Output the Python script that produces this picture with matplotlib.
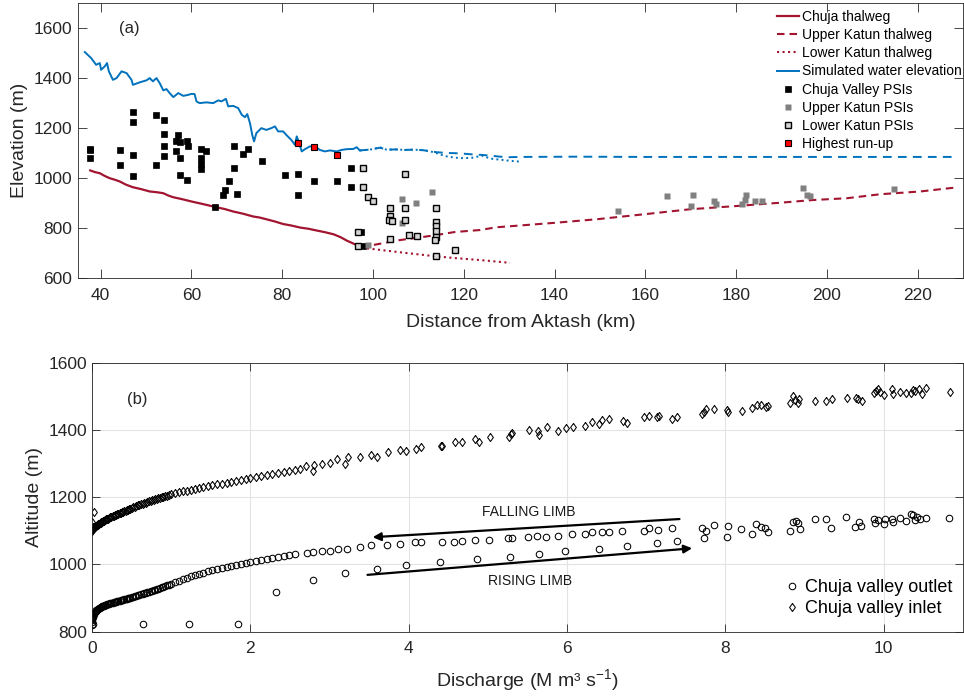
import matplotlib
matplotlib.use("Agg")
import matplotlib.pyplot as plt

plt.rcParams["font.family"] = ["Liberation Sans", "DejaVu Sans"]
plt.rcParams["mathtext.fontset"] = "custom"
plt.rcParams["mathtext.rm"] = "Liberation Sans"
plt.rcParams["mathtext.it"] = "Liberation Sans:italic"

# ---------------- (a) longitudinal profile ----------------
# simulated water surface along the Chuja valley
water_x = [36.5, 37.9, 39.0, 39.8, 40.1, 40.9, 41.4, 41.8, 42.7, 43.5, 44.6, 45.7,
           46.8, 47.1, 48.6, 50.1, 50.8, 51.5, 52.3, 53.0, 53.8, 54.5, 55.2, 56.0,
           57.1, 58.2, 59.3, 60.0, 60.7, 61.1, 61.8, 63.3, 64.8, 65.9, 66.6, 67.6,
           68.1, 69.2, 70.3, 71.1, 71.8, 72.3, 72.9, 73.4, 73.8, 74.3, 75.4, 76.5,
           77.6, 78.4, 79.1, 80.2, 80.9, 82.0, 82.8, 83.2, 83.5, 84.3, 85.0, 86.1,
           87.2, 88.3, 89.4, 90.5, 92.0, 93.1, 94.2, 95.7, 96.4, 97.1]
water_y = [1504, 1480, 1453, 1460, 1433, 1447, 1460, 1427, 1393, 1400, 1427, 1420,
           1393, 1373, 1383, 1391, 1400, 1387, 1400, 1380, 1351, 1356, 1340, 1324,
           1340, 1329, 1333, 1337, 1336, 1307, 1300, 1303, 1300, 1311, 1307, 1317,
           1287, 1289, 1280, 1253, 1244, 1256, 1220, 1173, 1147, 1180, 1200, 1193,
           1200, 1207, 1187, 1187, 1173, 1153, 1133, 1167, 1153, 1107, 1116, 1127,
           1127, 1113, 1107, 1111, 1107, 1113, 1116, 1117, 1124, 1111]

# water surface continued up the Katun (dashed) and down the Katun (dotted)
water_up_x = [97.1, 98.5, 100.0, 101.5, 103.0, 105.0, 107.0, 109.0, 111.0, 112.5,
              114.0, 116.0, 118.0, 120.0, 122.0, 124.0, 126.0, 128.0, 130.0, 133.0,
              145.0, 160.0, 180.0, 200.0, 228.0]
water_up_y = [1111, 1113, 1116, 1122, 1114, 1115, 1113, 1114, 1112, 1108,
              1104, 1101, 1100, 1098, 1095, 1093, 1090, 1086, 1084, 1085,
              1086, 1085, 1085, 1085, 1085]
water_dn_x = [97.1, 98.5, 100.0, 101.5, 103.0, 105.0, 107.0, 109.0, 111.0, 112.5,
              114.0, 116.0, 118.0, 120.0, 122.0, 124.0, 126.0, 128.0, 130.0, 132.5]
water_dn_y = [1111, 1113, 1116, 1124, 1114, 1115, 1113, 1114, 1112, 1108,
              1100, 1088, 1082, 1080, 1082, 1090, 1078, 1074, 1070, 1066]

# thalweg profiles
chuja_x = [37.7, 38.8, 39.8, 41.0, 42.0, 43.1, 44.2, 45.6, 47.1, 49.0, 50.8, 52.4,
           53.8, 55.0, 56.0, 58.0, 60.0, 62.7, 65.5, 67.3, 69.2, 71.4, 73.6, 75.0,
           76.5, 78.4, 80.2, 82.0, 83.9, 85.8, 87.6, 89.5, 91.3, 92.8, 94.2, 95.3,
           96.4, 97.5]
chuja_y = [1031, 1024, 1020, 1008, 1000, 994, 987, 974, 964, 956, 947, 944,
           940, 930, 924, 916, 907, 896, 884, 877, 867, 858, 847, 843,
           836, 827, 817, 811, 803, 798, 791, 784, 776, 765, 751, 742,
           733, 724]
upper_x = [97.5, 100.0, 106.0, 113.3, 118.0, 123.6, 127.2, 130.9, 140.2, 149.3,
           160.3, 169.9, 180.2, 189.7, 197.1, 204.4, 211.8, 220.6, 228.0]
upper_y = [724, 733, 753, 771, 785, 793, 804, 809, 822, 836,
           857, 876, 889, 902, 913, 920, 936, 947, 962]
lower_x = [97.5, 98.6, 106.0, 113.3, 118.0, 123.6, 130.2]
lower_y = [724, 720, 704, 689, 681, 673, 662]

# palaeostage indicators
chuja_psi_x = [37.7, 37.7, 37.6, 44.3, 44.3, 47.1, 47.1, 47.1, 47.1, 52.1, 52.1, 54.0,
               54.0, 54.0, 54.0, 56.5, 56.5, 57.1, 57.4, 57.5, 57.5, 59.0, 59.3, 59.1,
               62.1, 62.1, 62.2, 62.1, 63.1, 65.3, 66.9, 67.4, 68.3, 69.4, 69.4, 70.0,
               71.3, 72.5, 75.5, 80.6, 83.5, 83.5, 86.9, 92.1, 95.1, 95.1, 97.3, 97.9]
chuja_psi_y = [1117, 1081, 1111, 1112, 1052, 1263, 1224, 1091, 1009, 1253, 1051, 1233,
               1175, 1129, 1087, 1149, 1109, 1173, 1143, 1079, 1012, 1147, 1127, 993,
               1116, 1079, 1056, 1036, 1109, 885, 933, 953, 989, 1129, 1040, 936,
               1097, 1116, 1069, 1013, 1016, 933, 989, 989, 1040, 965, 787, 729]
upper_psi_x = [98.8, 106.5, 109.5, 113.1, 106.5, 154.1, 164.8, 170.6, 170.1, 175.2,
               175.6, 181.4, 181.9, 182.3, 184.2, 185.7, 194.7, 195.6, 196.2, 214.7]
upper_psi_y = [733, 916, 899, 943, 823, 869, 929, 934, 889, 908,
               896, 897, 913, 934, 909, 909, 960, 933, 927, 956]
lower_psi_x = [97.7, 97.7, 98.9, 100.1, 107.1, 103.7, 103.7, 103.6, 104.3, 107.1,
               107.1, 103.7, 107.9, 109.7, 113.8, 113.8, 113.8, 113.8, 113.8, 113.7,
               113.8, 118.1, 96.6, 96.6]
lower_psi_y = [1040, 965, 925, 910, 1017, 880, 850, 833, 830, 880,
               833, 756, 774, 769, 880, 826, 809, 790, 766, 753,
               690, 713, 786, 729]
runup_x = [83.5, 86.9, 92.1]
runup_y = [1140, 1124, 1091]

# ---------------- (b) stage-discharge ----------------
outlet_q = [0.00, 0.00, 0.00, 0.01, 0.01, 0.02, 0.03, 0.04, 0.05, 0.06, 0.08, 0.10,
            0.12, 0.14, 0.16, 0.18, 0.20, 0.23, 0.26, 0.29, 0.32, 0.35, 0.38, 0.41,
            0.44, 0.47, 0.50, 0.54, 0.58, 0.62, 0.66, 0.70, 0.74, 0.78, 0.82, 0.86,
            0.90, 0.95, 1.00, 1.05, 1.10, 1.15, 1.20, 1.25, 1.30, 1.35, 1.40, 1.46,
            1.52, 1.58, 1.64, 1.70, 1.76, 1.82, 1.88, 1.94, 2.00, 2.07, 2.14, 2.21,
            2.28, 2.35, 2.42, 2.49, 2.56,
            0.005, 0.015, 0.025, 0.035, 0.045, 0.055, 0.07, 0.09, 0.11, 0.13, 0.15,
            0.17, 0.19, 0.215, 0.245, 0.275, 0.305, 0.335, 0.365, 0.395, 0.425,
            0.455, 0.485, 0.52, 0.56, 0.60, 0.64, 0.68, 0.72, 0.76, 0.80, 0.84,
            0.88, 0.925, 0.975,
            2.71, 2.79, 2.90, 3.00, 3.11, 3.22, 3.38, 3.53, 3.73, 3.89, 4.08, 4.16,
            4.42, 4.57, 4.67, 4.84, 5.02, 5.26, 5.31, 5.51, 5.62, 5.74, 5.89, 6.06,
            6.23, 6.31, 6.44, 6.53, 6.70, 6.97, 7.03, 7.15, 7.32, 7.71, 7.76, 7.86,
            8.03, 8.20, 8.39, 8.45, 8.50, 8.54, 8.82, 8.85, 8.89, 8.92, 8.94, 9.13,
            9.27, 9.33, 9.52, 9.64, 9.69, 9.71, 9.88, 9.89, 9.93, 10.00, 10.02, 10.10,
            10.12, 10.20, 10.28, 10.34, 10.37, 10.39, 10.42, 10.46, 10.53, 10.83,
            0.01, 0.64, 1.22, 1.84, 2.33, 2.79, 3.20, 3.60, 3.96, 4.40, 4.86, 5.28,
            5.65, 5.98, 6.40, 6.76, 7.13, 7.39, 7.73, 8.02, 8.34]
outlet_h = [820, 828, 836, 843, 848, 853, 857, 860, 863, 865, 868, 871,
            874, 876, 878, 880, 882, 884, 886, 888, 890, 892, 894, 896,
            898, 900, 902, 905, 908, 911, 914, 917, 920, 923, 927, 930,
            934, 938, 943, 947, 952, 956, 961, 965, 969, 973, 976, 980,
            983, 986, 989, 992, 995, 998, 1000, 1003, 1006, 1009, 1012, 1015,
            1018, 1021, 1024, 1027, 1030,
            840, 851, 855, 858, 861, 864, 866, 869, 872, 875, 877,
            879, 881, 883, 885, 887, 889, 891, 893, 895, 897,
            899, 901, 903, 906, 909, 912, 915, 918, 921, 925, 928,
            932, 936, 940,
            1033, 1036, 1041, 1041, 1047, 1045, 1053, 1057, 1057, 1061, 1066, 1068,
            1066, 1067, 1069, 1073, 1073, 1078, 1078, 1083, 1086, 1083, 1085, 1090,
            1090, 1095, 1095, 1097, 1100, 1099, 1109, 1102, 1107, 1107, 1100, 1117,
            1114, 1106, 1120, 1110, 1109, 1097, 1100, 1127, 1129, 1122, 1106, 1134,
            1134, 1109, 1140, 1112, 1127, 1114, 1134, 1124, 1132, 1120, 1134, 1134,
            1127, 1137, 1130, 1150, 1147, 1132, 1142, 1135, 1139, 1137,
            822, 822, 822, 822, 918, 954, 974, 985, 997, 1006, 1016, 1023,
            1031, 1040, 1046, 1054, 1064, 1071, 1078, 1083, 1090]

inlet_q = [0.00, 0.00, 0.01, 0.01, 0.02, 0.03, 0.04, 0.05, 0.06, 0.08, 0.10, 0.12,
           0.14, 0.16, 0.18, 0.20, 0.23, 0.26, 0.29, 0.32, 0.35, 0.38, 0.41, 0.44,
           0.47, 0.50, 0.54, 0.58, 0.62, 0.66, 0.70, 0.74, 0.78, 0.82, 0.86, 0.90,
           0.95, 1.00, 1.05, 1.10, 1.15, 1.20, 1.25, 1.30, 1.35, 1.40, 1.46, 1.52,
           1.58, 1.64, 1.70, 1.76, 1.82, 1.88, 1.94, 2.00, 2.07, 2.14, 2.21, 2.28,
           2.35, 2.42, 2.49, 2.56, 2.63, 0.02, 0.00,
           0.005, 0.015, 0.025, 0.035, 0.045, 0.055, 0.07, 0.09, 0.11, 0.13, 0.15,
           0.17, 0.19, 0.215, 0.245, 0.275, 0.305, 0.335, 0.365, 0.395, 0.425,
           0.455, 0.485, 0.52, 0.56, 0.60, 0.64, 0.68, 0.72, 0.76, 0.80, 0.84,
           0.88, 0.925, 0.975,
           2.70, 2.79, 2.80, 2.91, 3.00, 3.10, 3.20, 3.23, 3.38, 3.53, 3.60, 3.74,
           3.89, 3.97, 4.09, 4.16, 4.41, 4.42, 4.58, 4.67, 4.84, 4.89, 5.03, 5.27,
           5.29, 5.31, 5.52, 5.63, 5.65, 5.75, 5.89, 5.99, 6.07, 6.23, 6.31, 6.40,
           6.44, 6.53, 6.71, 6.76, 6.97, 7.04, 7.14, 7.16, 7.33, 7.39, 7.71, 7.73,
           7.76, 7.86, 8.02, 8.03, 8.21, 8.34, 8.40, 8.45, 8.51, 8.54, 8.82, 8.85,
           8.88, 8.92, 8.93, 9.13, 9.27, 9.34, 9.53, 9.65, 9.68, 9.72, 9.88, 9.90,
           9.93, 9.95, 10.00, 10.10, 10.12, 10.20, 10.28, 10.34, 10.37, 10.39, 10.45,
           10.48, 10.53, 10.84]
inlet_h = [1100, 1106, 1104, 1110, 1107, 1110, 1112, 1114, 1116, 1119, 1122, 1126,
           1129, 1131, 1134, 1136, 1140, 1143, 1146, 1149, 1152, 1156, 1159, 1162,
           1165, 1168, 1172, 1176, 1180, 1183, 1186, 1189, 1192, 1195, 1198, 1201,
           1204, 1208, 1211, 1214, 1217, 1219, 1222, 1224, 1227, 1229, 1232, 1235,
           1238, 1240, 1243, 1246, 1248, 1251, 1253, 1256, 1259, 1262, 1265, 1268,
           1271, 1274, 1277, 1280, 1283, 1155, 1125,
           1102, 1105, 1108, 1111, 1113, 1115, 1117, 1120, 1124, 1127, 1130,
           1132, 1135, 1138, 1141, 1144, 1147, 1150, 1154, 1157, 1160,
           1163, 1166, 1170, 1174, 1178, 1181, 1184, 1188, 1191, 1194, 1197,
           1200, 1203, 1206,
           1293, 1278, 1296, 1299, 1303, 1313, 1299, 1319, 1321, 1326, 1321, 1333,
           1340, 1337, 1344, 1350, 1353, 1351, 1365, 1365, 1372, 1365, 1380, 1380,
           1387, 1392, 1400, 1398, 1386, 1408, 1398, 1407, 1408, 1412, 1425, 1418,
           1430, 1434, 1426, 1421, 1437, 1440, 1439, 1441, 1432, 1439, 1447, 1454,
           1463, 1461, 1459, 1453, 1457, 1464, 1474, 1474, 1467, 1471, 1481, 1501,
           1489, 1481, 1491, 1486, 1487, 1491, 1494, 1494, 1491, 1486, 1509, 1517,
           1521, 1514, 1504, 1521, 1507, 1514, 1511, 1509, 1519, 1517, 1521,
           1507, 1526, 1514]

# limb arrows: (tail q, tail h, head q, head h)
falling_arrow = (7.42, 1135, 3.545, 1081)
rising_arrow = (3.48, 969, 7.58, 1048)

RED = "#A2142F"
BLUE = "#0072BD"
AXCOL = "#262626"


def matlab_axes(ax, ticklen, xpad, ypad):
    for s in ax.spines.values():
        s.set_color(AXCOL)
        s.set_linewidth(0.6)
    ax.tick_params(direction="in", top=True, right=True, length=ticklen, width=0.6,
                   color=AXCOL, labelsize=12.5, labelcolor=AXCOL)
    ax.tick_params(axis="x", pad=xpad)
    ax.tick_params(axis="y", pad=ypad)


fig = plt.figure(figsize=(9.64, 6.96), dpi=100)

# ---- panel (a)
ax1 = fig.add_axes([0.0809, 0.6001, 0.9180, 0.3956])
h_chuja, = ax1.plot(chuja_x, chuja_y, "-", color=RED, lw=1.6)
h_upper, = ax1.plot(upper_x, upper_y, "--", color=RED, lw=1.5, dashes=(3.6, 2.4))
h_lower, = ax1.plot(lower_x, lower_y, ":", color=RED, lw=1.5)
h_water, = ax1.plot(water_x, water_y, "-", color=BLUE, lw=1.4)
ax1.plot(water_up_x, water_up_y, "--", color=BLUE, lw=1.4, dashes=(4.5, 3.2))
ax1.plot(water_dn_x, water_dn_y, ":", color=BLUE, lw=1.4)

h_cpsi, = ax1.plot(chuja_psi_x, chuja_psi_y, "s", ms=4.3, mfc="k", mec="k", mew=0.5,
                   linestyle="none")
h_upsi, = ax1.plot(upper_psi_x, upper_psi_y, "s", ms=4.6, mfc="#808080", mec="none",
                   linestyle="none")
h_lpsi, = ax1.plot(lower_psi_x, lower_psi_y, "s", ms=4.3, mfc="#D4D4D4", mec="k",
                   mew=1.0, linestyle="none")
h_run, = ax1.plot(runup_x, runup_y, "s", ms=5.0, mfc="#FF0000", mec="k", mew=0.8,
                  linestyle="none")

ax1.set_xlim(35, 230)
ax1.set_ylim(600, 1700)
ax1.set_xticks(range(40, 221, 20))
ax1.set_yticks(range(600, 1601, 200))
matlab_axes(ax1, 6.4, 7, 4)
ax1.set_xlabel("Distance from Aktash (km)", fontsize=14, color=AXCOL)
ax1.set_ylabel("Elevation (m)", fontsize=14, color=AXCOL)
ax1.xaxis.set_label_coords(0.5, -0.13)
ax1.yaxis.set_label_coords(-0.056, 0.5)
ax1.text(44, 1600, "(a)", fontsize=12, ha="left", va="center", color=AXCOL)

ax1.legend([h_chuja, h_upper, h_lower, h_water, h_cpsi, h_upsi, h_lpsi, h_run],
           ["Chuja thalweg", "Upper Katun thalweg", "Lower Katun thalweg",
            "Simulated water elevation", "Chuja Valley PSIs", "Upper Katun PSIs",
            "Lower Katun PSIs", "Highest run-up"],
           loc="upper left", bbox_to_anchor=(0.790, 0.975), frameon=False,
           fontsize=10, handlelength=1.55, handletextpad=0.25, labelspacing=0.3,
           borderpad=0, borderaxespad=0)

# ---- panel (b)
ax2 = fig.add_axes([0.0954, 0.0924, 0.9035, 0.3865])
ax2.grid(True, color="#E3E3E3", lw=0.8)
ax2.set_axisbelow(True)
diamond = [(0, 1), (0.72, 0), (0, -1), (-0.72, 0), (0, 1)]
h_out, = ax2.plot(outlet_q, outlet_h, "o", ms=4.7, mfc="none", mec="k", mew=0.75,
                  linestyle="none")
h_in, = ax2.plot(inlet_q, inlet_h, marker=diamond, ms=5.8, mfc="none", mec="k",
                 mew=0.75, linestyle="none")

for q0, h0, q1, h1 in (falling_arrow, rising_arrow):
    ax2.annotate("", xy=(q1, h1), xytext=(q0, h0),
                 arrowprops=dict(arrowstyle="-|>", color="k", lw=1.6,
                                 mutation_scale=12, shrinkA=0, shrinkB=0))
ax2.text(5.52, 1156, "FALLING LIMB", fontsize=10, ha="center", va="center",
         color="#1A1A1A")
ax2.text(5.53, 952, "RISING LIMB", fontsize=10, ha="center", va="center",
         color="#1A1A1A")
ax2.text(0.437, 1492, "(b)", fontsize=12, ha="left", va="center", color=AXCOL)

ax2.set_xlim(0, 11)
ax2.set_ylim(800, 1600)
ax2.set_xticks(range(0, 11, 2))
ax2.set_yticks(range(800, 1601, 200))
matlab_axes(ax2, 5.8, 6.5, 3.5)
ax2.set_xlabel("Discharge (M m³ s$^{-1}$)", fontsize=14, color=AXCOL)
ax2.set_ylabel("Altitude (m)", fontsize=14, color=AXCOL)
ax2.xaxis.set_label_coords(0.5, -0.13)
ax2.yaxis.set_label_coords(-0.056, 0.5)

ax2.legend([h_out, h_in], ["Chuja valley outlet", "Chuja valley inlet"],
           loc="lower left", bbox_to_anchor=(0.793, 0.055), frameon=False,
           fontsize=13, handlelength=1.0, handletextpad=0.25, labelspacing=0.2,
           borderpad=0, borderaxespad=0)

fig.savefig("out.png", dpi=100)
